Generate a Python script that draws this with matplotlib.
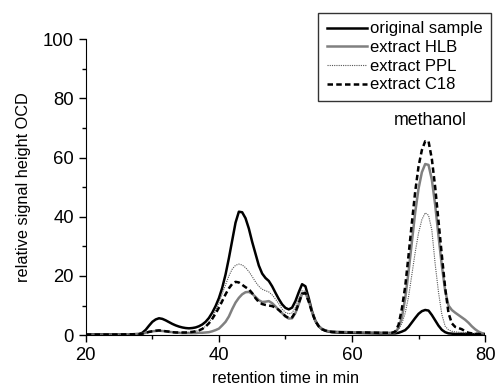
import matplotlib
matplotlib.use('Agg')
import matplotlib.pyplot as plt
from matplotlib.ticker import MultipleLocator

plt.rcParams['font.family'] = ['Liberation Sans', 'DejaVu Sans']

# retention time (min), sampled finer around the peaks
time = [20, 24, 27,
        28, 28.5, 29, 29.5, 30, 30.5, 31, 31.5, 32, 32.5,
        33, 33.5, 34, 34.5, 35, 35.5, 36, 36.5, 37, 37.5,
        38, 38.5, 39, 39.5, 40, 40.5, 41, 41.5, 42, 42.5,
        43, 43.5, 44, 44.5, 45, 45.5, 46, 46.5, 47, 47.5,
        48, 48.5, 49, 49.5, 50, 50.5, 51, 51.5, 52, 52.5,
        53, 53.5, 54, 54.5, 55, 55.5, 56, 56.5, 57,
        58, 60, 62, 64, 65,
        66, 66.5, 67, 67.5, 68, 68.5, 69, 69.5, 70, 70.5,
        71, 71.5, 72, 72.5, 73, 73.5, 74, 74.5, 75, 75.5,
        76, 76.5, 77, 77.5, 78, 78.5, 79, 79.5, 80]

original = [0.3, 0.3, 0.3,
            0.4, 0.8, 1.8, 3.2, 4.5, 5.3, 5.7, 5.5, 5.0, 4.4,
            3.8, 3.3, 2.9, 2.6, 2.4, 2.3, 2.4, 2.6, 3.0, 3.6,
            4.5, 5.8, 7.6, 9.8, 12.5, 16.0, 20.5, 26.0, 32.0, 38.0,
            41.7, 41.5, 39.5, 36.0, 31.5, 27.5, 23.5, 20.8, 19.3, 18.3,
            16.5, 14.3, 12.2, 10.4, 9.2, 8.7, 9.3, 11.5, 14.5, 17.2,
            16.5, 12.5, 8.0, 4.8, 3.0, 2.0, 1.5, 1.2, 1.0,
            0.9, 0.8, 0.7, 0.6, 0.6,
            0.6, 0.6, 0.8, 1.2, 1.7, 2.8, 4.3, 5.8, 7.2, 8.1,
            8.5, 8.3, 6.8, 5.0, 3.2, 1.8, 1.0, 0.6, 0.5, 0.4,
            0.4, 0.4, 0.4, 0.3, 0.3, 0.3, 0.3, 0.3, 0.3]

hlb = [0.2, 0.2, 0.3,
       0.3, 0.5, 0.8, 1.1, 1.3, 1.4, 1.5, 1.4, 1.3, 1.1,
       1.0, 0.9, 0.8, 0.7, 0.7, 0.7, 0.7, 0.7, 0.8, 0.8,
       0.9, 1.0, 1.3, 1.7, 2.2, 3.3, 4.5, 6.3, 8.8, 11.0,
       12.6, 13.8, 14.5, 14.6, 14.0, 12.9, 11.8, 11.2, 11.3, 11.5,
       10.8, 9.7, 8.5, 7.4, 6.3, 5.6, 5.7, 7.5, 10.5, 14.0,
       14.3, 11.5, 7.8, 4.8, 3.0, 2.1, 1.6, 1.3, 1.2,
       1.1, 1.0, 0.9, 0.9, 0.8,
       0.8, 1.0, 2.5, 6.0, 12.5, 21.5, 31.5, 41.5, 49.5, 55.0,
       57.8, 57.5, 52.5, 44.0, 33.5, 23.5, 15.0, 10.0, 8.5, 7.6,
       6.8, 6.0, 5.2, 4.2, 3.0, 2.0, 1.2, 0.7, 0.5]

ppl = [0.2, 0.2, 0.3,
       0.3, 0.5, 0.8, 1.1, 1.3, 1.4, 1.5, 1.4, 1.3, 1.1,
       1.0, 0.9, 0.9, 0.9, 0.9, 1.0, 1.1, 1.3, 1.6, 2.1,
       3.0, 4.2, 6.0, 8.3, 11.0, 14.0, 17.0, 20.0, 22.3, 23.6,
       24.0, 23.7, 22.8, 21.5, 19.8, 18.0, 16.5, 15.5, 15.0, 14.6,
       13.6, 12.2, 10.6, 8.8, 7.7, 7.2, 7.5, 9.5, 12.5, 15.0,
       14.8, 11.8, 8.0, 4.9, 3.1, 2.1, 1.6, 1.3, 1.2,
       1.1, 1.0, 0.9, 0.9, 0.8,
       0.8, 1.0, 2.0, 4.0, 7.5, 13.0, 20.5, 28.0, 34.5, 39.0,
       41.3, 40.5, 35.5, 24.0, 14.5, 7.0, 3.0, 1.8, 1.3, 1.1,
       1.0, 0.9, 0.8, 0.8, 0.7, 0.6, 0.5, 0.5, 0.5]

c18 = [0.2, 0.2, 0.3,
       0.3, 0.5, 0.8, 1.1, 1.3, 1.5, 1.6, 1.5, 1.3, 1.2,
       1.0, 0.9, 0.9, 0.9, 0.9, 1.0, 1.1, 1.3, 1.6, 2.1,
       2.9, 4.0, 5.5, 7.3, 9.3, 11.5, 13.8, 15.8, 17.3, 18.0,
       17.8, 17.0, 16.2, 15.5, 14.2, 12.5, 11.2, 10.5, 10.2, 10.0,
       9.8, 9.3, 8.5, 7.5, 6.4, 5.8, 6.0, 7.8, 10.8, 14.0,
       14.2, 11.3, 7.7, 4.7, 3.0, 2.0, 1.5, 1.2, 1.1,
       1.0, 0.9, 0.9, 0.8, 0.8,
       0.8, 1.2, 3.5, 9.0, 16.5, 27.0, 38.0, 48.5, 57.0, 62.5,
       65.5, 65.5, 59.5, 50.0, 38.5, 27.0, 16.0, 7.5, 4.0, 2.8,
       2.4, 2.0, 1.3, 0.8, 0.6, 0.5, 0.4, 0.3, 0.3]

fig = plt.figure(figsize=(4.96, 3.87), dpi=100)
ax = fig.add_axes([0.173, 0.134, 0.805, 0.765])

ax.plot(time, original, color='black', lw=1.8, label='original sample')
ax.plot(time, hlb, color='#808080', lw=1.8, label='extract HLB')
ax.plot(time, ppl, color='#555555', lw=0.8, ls=(0, (1, 1)), label='extract PPL')
ax.plot(time, c18, color='black', lw=1.8, ls=(0, (2.2, 1.3)), label='extract C18')

ax.set_xlim(20, 80)
ax.set_ylim(0, 100)
ax.xaxis.set_major_locator(MultipleLocator(20))
ax.xaxis.set_minor_locator(MultipleLocator(10))
ax.yaxis.set_major_locator(MultipleLocator(20))
ax.yaxis.set_minor_locator(MultipleLocator(10))
ax.tick_params(which='major', direction='out', length=5, width=1, labelsize=13.3)
ax.tick_params(which='minor', direction='out', length=3, width=1)
ax.spines['top'].set_visible(False)
ax.spines['right'].set_visible(False)

ax.set_xlabel('retention time in min', fontsize=11.7, labelpad=5)
ax.set_ylabel('relative signal height OCD', fontsize=11.7, labelpad=9)

ax.text(71.7, 72.5, 'methanol', ha='center', va='center', fontsize=12.8)

leg = ax.legend(loc='upper right', bbox_to_anchor=(0.99, 0.966),
                bbox_transform=fig.transFigure, fontsize=12, frameon=True,
                fancybox=False, edgecolor='black', handlelength=2.4,
                handletextpad=0.2, labelspacing=0.22, borderpad=0.5,
                borderaxespad=0)
leg.get_frame().set_linewidth(1)

fig.savefig('out.png', dpi=100)
